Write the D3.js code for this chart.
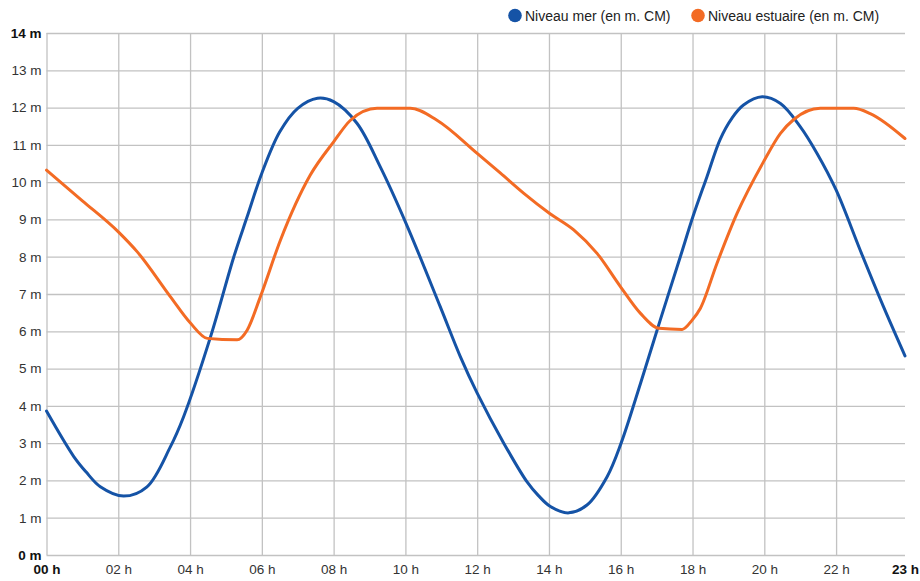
<!DOCTYPE html>
<html>
<head>
<meta charset="utf-8">
<script src="https://cdn.jsdelivr.net/npm/d3@7"></script>
<style>
  html, body { margin: 0; padding: 0; background: #ffffff; }
  svg { display: block; font-family: "Liberation Sans", Arial, sans-serif; }
</style>
</head>
<body>
<svg id="chart" width="920" height="581"></svg>
<script>
// ---- Data ----
const seriesNames = ["Niveau mer (en m. CM)", "Niveau estuaire (en m. CM)"];
const seriesColors = ["#1553a6", "#f36b24"];

const seaHours  = [0, 0.76, 1.1, 1.5, 2.15, 2.8, 3.45, 3.82, 4.57, 5.22, 5.59, 6.0, 6.5, 7.0, 7.55, 8.0, 8.65, 9.3, 10.02, 10.97, 11.53, 12.0, 12.74, 13.39, 13.7, 14.04, 14.55, 15.06, 15.62, 16.01, 16.55, 17.1, 17.66, 18.01, 18.4, 18.77, 19.1, 19.42, 19.94, 20.45, 21.0, 21.47, 22.0, 22.67, 23.32, 23.92];
const seaLevels = [3.86, 2.64, 2.23, 1.83, 1.58, 1.83, 2.9, 3.71, 5.85, 8.0, 9.07, 10.24, 11.35, 11.98, 12.25, 12.16, 11.58, 10.41, 8.89, 6.66, 5.32, 4.34, 3.0, 1.96, 1.6, 1.3, 1.13, 1.34, 2.1, 3.0, 4.6, 6.3, 8.0, 9.07, 10.14, 11.15, 11.72, 12.07, 12.29, 12.11, 11.49, 10.77, 9.79, 8.18, 6.66, 5.34];

const estHours  = [0, 1.0, 2.03, 2.53, 3.45, 4.01, 4.48, 5.31, 5.59, 5.96, 6.52, 7.35, 8.0, 8.47, 9.21, 10.14, 10.88, 12.0, 12.65, 13.3, 14.02, 14.69, 15.34, 15.99, 16.55, 17.06, 17.71, 17.99, 18.22, 18.68, 19.24, 19.98, 20.45, 20.82, 21.56, 22.49, 22.95, 23.92];
const estLevels = [10.32, 9.5, 8.64, 8.13, 6.93, 6.22, 5.81, 5.77, 6.03, 6.93, 8.45, 10.19, 11.08, 11.66, 11.98, 11.98, 11.66, 10.77, 10.24, 9.7, 9.16, 8.72, 8.09, 7.2, 6.48, 6.08, 6.05, 6.3, 6.62, 7.82, 9.16, 10.55, 11.31, 11.68, 11.98, 11.98, 11.84, 11.17];

const xTickValues = [0, 2, 4, 6, 8, 10, 12, 14, 16, 18, 20, 22, 23.92];
const xTickLabels = ["00 h", "02 h", "04 h", "06 h", "08 h", "10 h", "12 h", "14 h", "16 h", "18 h", "20 h", "22 h", "23 h"];
const yTickValues = [0, 1, 2, 3, 4, 5, 6, 7, 8, 9, 10, 11, 12, 13, 14];
const yTickLabels = ["0 m", "1 m", "2 m", "3 m", "4 m", "5 m", "6 m", "7 m", "8 m", "9 m", "10 m", "11 m", "12 m", "13 m", "14 m"];

// ---- Layout ----
const plotLeft = 46.5, plotRight = 905, plotTop = 33, plotBottom = 555;
const svg = d3.select("#chart");

const x = d3.scaleLinear().domain([0, 23.92]).range([plotLeft, plotRight]);
const y = d3.scaleLinear().domain([0, 14]).range([plotBottom, plotTop]);

const gridColor = "#c2c2c2";

// Y axis with horizontal grid
const yAxis = d3.axisLeft(y)
  .tickValues(yTickValues)
  .tickFormat((d, i) => yTickLabels[i])
  .tickSize(-(plotRight - plotLeft))
  .tickPadding(5);
const gy = svg.append("g").attr("transform", `translate(${plotLeft},0)`).call(yAxis);
gy.select(".domain").remove();
gy.selectAll(".tick line").attr("stroke", gridColor).attr("stroke-width", 1.3);
gy.selectAll(".tick text")
  .style("font-size", "13.5px")
  .style("font-family", "'Liberation Sans', Arial, sans-serif")
  .style("font-weight", (d) => (d === 0 || d === 14) ? "bold" : "normal")
  .attr("fill", (d) => (d === 0 || d === 14) ? "#111" : "#333");

// X axis with vertical grid
const xAxis = d3.axisBottom(x)
  .tickValues(xTickValues)
  .tickFormat((d, i) => xTickLabels[i])
  .tickSize(-(plotBottom - plotTop))
  .tickPadding(9);
const gx = svg.append("g").attr("transform", `translate(0,${plotBottom})`).call(xAxis);
gx.select(".domain").remove();
gx.selectAll(".tick line")
  .attr("stroke", gridColor).attr("stroke-width", 1.3)
  .attr("display", (d, i) => i === xTickValues.length - 1 ? "none" : null);
gx.selectAll(".tick text")
  .style("font-size", "13.5px")
  .style("font-family", "'Liberation Sans', Arial, sans-serif")
  .style("font-weight", (d, i) => (i === 0 || i === xTickValues.length - 1) ? "bold" : "normal")
  .attr("fill", (d, i) => (i === 0 || i === xTickValues.length - 1) ? "#111" : "#333");

// Lines
const seaLine = d3.line()
  .x(d => x(d[0]))
  .y(d => y(d[1]))
  .curve(d3.curveCatmullRom.alpha(0.5));
const estLine = d3.line()
  .x(d => x(d[0]))
  .y(d => y(d[1]))
  .curve(d3.curveMonotoneX);

const seaData = seaHours.map((h, i) => [h, seaLevels[i]]);
const estData = estHours.map((h, i) => [h, estLevels[i]]);

svg.append("path").datum(seaData)
  .attr("d", seaLine).attr("fill", "none")
  .attr("stroke", seriesColors[0]).attr("stroke-width", 3)
  .attr("stroke-linejoin", "round").attr("stroke-linecap", "round");

svg.append("path").datum(estData)
  .attr("d", estLine).attr("fill", "none")
  .attr("stroke", seriesColors[1]).attr("stroke-width", 3)
  .attr("stroke-linejoin", "round").attr("stroke-linecap", "round");

// Legend
const legendX = [515, 698];
const lg = svg.append("g");
seriesNames.forEach((name, i) => {
  lg.append("circle").attr("cx", legendX[i]).attr("cy", 15.5).attr("r", 6.8).attr("fill", seriesColors[i]);
  lg.append("text").attr("x", legendX[i] + 10).attr("y", 20.5)
    .style("font-size", "14px").attr("fill", "#222").text(name);
});
</script>
</body>
</html>
